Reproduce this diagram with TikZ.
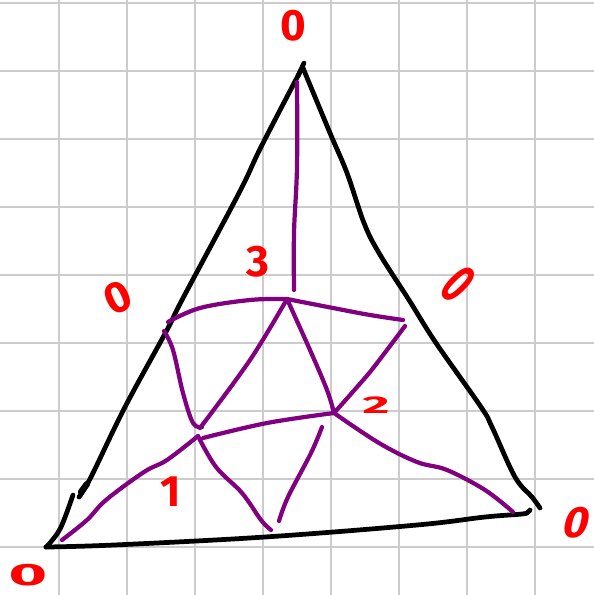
\documentclass[tikz,border=0pt]{standalone}
\usepackage{fontspec}
\newfontfamily\handfont{Fira Sans}
\definecolor{gridgray}{RGB}{204,204,204}
\definecolor{sketchpurple}{RGB}{128,0,128}
\definecolor{penred}{RGB}{255,0,0}
\begin{document}
\begin{tikzpicture}[x=0.02cm,y=-0.02cm,line cap=round,line join=round,
  edge/.style={black,line width=2.7pt},
  cut/.style={sketchpurple,line width=2.4pt},
  lbl/.style={penred,inner sep=0pt,font=\handfont\bfseries\fontsize{25}{25}\selectfont}]
\useasboundingbox (0,0) rectangle (594,595);
\foreach \k in {0,...,7} \draw[gridgray,line width=1.1pt] (59+68*\k,0) -- (59+68*\k,595);
\foreach \k in {0,...,8} \draw[gridgray,line width=1.1pt] (0,3+68*\k) -- (594,3+68*\k);
% corners and inner vertices
\coordinate (top) at (301,70);
\coordinate (lcorner) at (46,547);
\coordinate (rcorner) at (528,512);
\coordinate (n3) at (287,299);
\coordinate (n1) at (198,436);
\coordinate (n2) at (334,413);
% triangle
\draw[edge] plot[smooth,tension=0.6] coordinates {(top) (261,147) (239,193) (182,300) (167,330) (125,407) (91,477) (79,497)};
\draw[edge,line width=3.6pt] (81,492) -- (87,484);
\draw[edge] plot[smooth,tension=0.6] coordinates {(73,495) (61,527) (50,543) (lcorner)};
\draw[edge] plot[smooth,tension=0.6] coordinates {(lcorner) (114,545) (265,537) (417,525) (485,517) (522,514) (rcorner) (530,510)};
\draw[edge] plot[smooth,tension=0.6] coordinates {(303,68) (330,133) (347,173) (364,223) (379,253) (409,300) (436,343) (481,407) (492,427) (515,477) (532,497) (540,508)};
\draw[edge] (298,76) -- (304,63);
% purple cuts
\draw[cut] plot[smooth,tension=0.6] coordinates {(297,82) (297,167) (294,233) (294,290)};
\draw[cut] plot[smooth,tension=0.6] coordinates {(168,322) (200,308) (250,300) (n3)};
\draw[cut] plot[smooth,tension=0.6] coordinates {(n3) (333,308) (370,315) (403,320)};
\draw[cut] plot[smooth,tension=0.6] coordinates {(164,331) (173,350) (183,393) (193,423) (202,427)};
\draw[cut] plot[smooth,tension=0.6] coordinates {(n3) (250,360) (200,428)};
\draw[cut] plot[smooth,tension=0.6] coordinates {(n3) (310,350) (327,390) (n2)};
\draw[cut] plot[smooth,tension=0.4] coordinates {(405,326) (370,372) (n2)};
\draw[cut] plot[smooth,tension=0.6] coordinates {(203,438) (267,423) (n2)};
\draw[cut] plot[smooth,tension=0.6] coordinates {(n1) (167,460) (144,472) (106,500) (87,520) (62,540)};
\draw[cut] plot[smooth,tension=0.6] coordinates {(n1) (216,467) (242,493) (261,520) (271,530)};
\draw[cut] plot[smooth,tension=0.6] coordinates {(322,427) (311,453) (288,497) (279,521)};
\draw[cut] plot[smooth,tension=0.6] coordinates {(n2) (379,443) (417,462) (447,470) (485,490) (513,512)};
% red labels
\node[lbl] (ztop) at (293,26) {0};
\node[lbl] (zleft) at (118,298) [rotate=25] {0};
\node[lbl] (zright) at (458,284) [rotate=-45,xscale=0.8,yscale=1.3] {0};
\node[lbl] (zbl) at (28,575) [xscale=1.5,yscale=0.7] {0};
\node[lbl] (zbr) at (577,523) [xslant=0.25] {0};
\node[lbl] (l3) at (258,262) {3};
\node[lbl] (l2) at (376,405) [xscale=1.2,yscale=0.55] {2};
\node[lbl] (l1) at (171,492) {1};
\end{tikzpicture}
\end{document}
